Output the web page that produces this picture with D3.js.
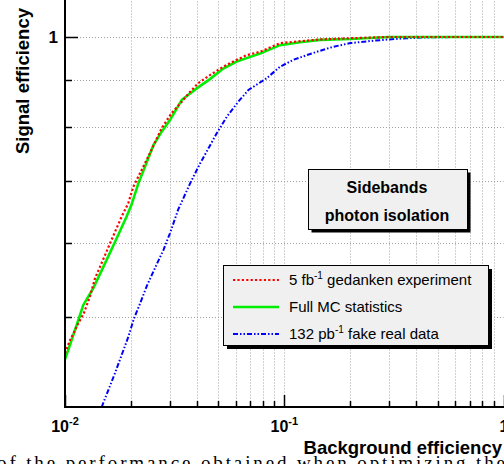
<!DOCTYPE html>
<html>
<head>
<meta charset="utf-8">
<script src="https://cdn.jsdelivr.net/npm/d3@7"></script>
<style>
  body { margin: 0; background: #fff; }
  svg { display: block; }
</style>
</head>
<body>
<svg id="chart" width="504" height="464"></svg>
<script>
// ---- data ----
const seriesNames = ['5 fb-1 gedanken experiment', 'Full MC statistics', '132 pb-1 fake real data'];

const bkgGedanken = [0.01, 0.01054, 0.0115, 0.0122, 0.013, 0.0137, 0.01444, 0.01605, 0.01813, 0.01945, 0.02048, 0.022, 0.0244, 0.0276, 0.0306, 0.0341, 0.0372, 0.0405, 0.0458, 0.0527, 0.0607, 0.0673, 0.0775, 0.0956, 0.1456, 0.2, 0.3, 1.0];
const sigGedanken = [0.457, 0.472, 0.492, 0.505, 0.526, 0.55, 0.566, 0.6, 0.641, 0.663, 0.69, 0.714, 0.75, 0.798, 0.828, 0.852, 0.873, 0.892, 0.91, 0.929, 0.945, 0.956, 0.964, 0.985, 0.994, 0.997, 1.0, 1.0];

const bkgFullMC = [0.01, 0.01111, 0.01212, 0.01346, 0.01496, 0.0169, 0.0191, 0.0201, 0.0216, 0.0232, 0.0253, 0.0276, 0.0301, 0.0341, 0.04, 0.0458, 0.0527, 0.0607, 0.07, 0.0775, 0.0956, 0.118, 0.1456, 0.2, 0.3, 1.0];
const sigFullMC = [0.45, 0.484, 0.515, 0.537, 0.566, 0.602, 0.641, 0.66, 0.696, 0.726, 0.765, 0.791, 0.814, 0.856, 0.881, 0.901, 0.925, 0.941, 0.952, 0.96, 0.98, 0.987, 0.993, 0.995, 1.0, 1.0];

const bkgFake = [0.0147, 0.01576, 0.0169, 0.01813, 0.01945, 0.02063, 0.022, 0.0237, 0.0257, 0.0281, 0.0301, 0.0328, 0.0372, 0.0413, 0.0451, 0.0492, 0.0547, 0.0617, 0.0686, 0.0831, 0.0956, 0.1099, 0.1265, 0.1405, 0.1668, 0.2, 0.246, 0.3, 0.36, 0.45, 0.6, 1.0];
const sigFake = [0.4, 0.417, 0.435, 0.455, 0.476, 0.498, 0.517, 0.541, 0.564, 0.59, 0.615, 0.652, 0.696, 0.731, 0.759, 0.788, 0.821, 0.852, 0.877, 0.903, 0.929, 0.945, 0.956, 0.964, 0.976, 0.985, 0.99, 0.994, 0.997, 0.999, 1.0, 1.0];

const xTicksMajor = [0.01, 0.1, 1];
const yTicks = [0.4, 0.5, 0.6, 0.7, 0.8, 0.9, 1.0];

// ---- layout ----
const svg = d3.select('#chart');
const font = '"Liberation Sans", Arial, Helvetica, sans-serif';

var x = d3.scaleLog().domain([0.01, 1]).range([65, 503.6]);
var y = d3.scaleLog().domain([0.4, 1]).range([407, 37]);
const yTop = y(1.1);

const xMinor = [];
for (let d = 0.01; d < 1; d *= 10) {
    for (let k = 2; k <= 9; k++) xMinor.push(+(d * k).toPrecision(3));
}

// grid
const grid = svg.append('g').attr('stroke', '#a0a0a0').attr('stroke-width', 1).attr('stroke-dasharray', '1,2');
grid.selectAll('line.v')
    .data(xMinor.concat([0.1]))
    .enter().append('line')
        .attr('x1', d => Math.round(x(d)) + 0.5).attr('x2', d => Math.round(x(d)) + 0.5)
        .attr('y1', yTop).attr('y2', y(0.4));
grid.selectAll('line.h')
    .data(yTicks.slice(1))
    .enter().append('line')
        .attr('x1', x(0.01)).attr('x2', x(1))
        .attr('y1', d => Math.round(y(d)) + 0.5).attr('y2', d => Math.round(y(d)) + 0.5);

// curves
svg.append('clipPath').attr('id', 'plotclip')
    .append('rect').attr('x', x(0.01)).attr('y', yTop).attr('width', x(1) - x(0.01)).attr('height', y(0.4) - yTop);

const line = d3.line().x(d => x(d[0])).y(d => y(d[1]));
// index matches seriesNames
const curves = [
    { pts: d3.zip(bkgGedanken, sigGedanken), color: '#ff0000', width: 2.2, dash: '2.2,2.2' },
    { pts: d3.zip(bkgFullMC, sigFullMC), color: '#00ee00', width: 2.6, dash: null },
    { pts: d3.zip(bkgFake, sigFake), color: '#0000ff', width: 2, dash: '5,2,1.5,2,1.5,2' }
];
const cg = svg.append('g').attr('clip-path', 'url(#plotclip)');
[2, 1, 0].forEach(i => {
    const c = curves[i];
    cg.append('path')
        .datum(c.pts)
        .attr('d', line)
        .attr('fill', 'none')
        .attr('stroke', c.color)
        .attr('stroke-width', c.width)
        .attr('stroke-dasharray', c.dash);
});

// frame + axes
svg.append('line').attr('x1', x(0.01)).attr('x2', x(0.01)).attr('y1', yTop).attr('y2', y(0.4) + 1)
    .attr('stroke', '#000').attr('stroke-width', 2);
svg.append('line').attr('x1', x(0.01) - 1).attr('x2', x(1) + 2).attr('y1', y(0.4)).attr('y2', y(0.4))
    .attr('stroke', '#000').attr('stroke-width', 2);

// x ticks (inward)
svg.selectAll('line.xt')
    .data(xMinor.concat(xTicksMajor))
    .enter().append('line')
        .attr('x1', d => Math.round(x(d)) + 0.5).attr('x2', d => Math.round(x(d)) + 0.5)
        .attr('y1', y(0.4)).attr('y2', d => y(0.4) - (xTicksMajor.includes(d) ? 12 : 6))
        .attr('stroke', '#000').attr('stroke-width', 1.5);

// y ticks (inward)
svg.selectAll('line.yt')
    .data(yTicks.slice(1))
    .enter().append('line')
        .attr('x1', x(0.01)).attr('x2', d => x(0.01) + (d === 1 ? 13 : 7))
        .attr('y1', d => Math.round(y(d)) + 0.5).attr('y2', d => Math.round(y(d)) + 0.5)
        .attr('stroke', '#000').attr('stroke-width', 1.5);

// x tick labels
const xl = svg.selectAll('text.xl')
    .data(xTicksMajor)
    .enter().append('text')
        .attr('x', d => x(d) - (d === 1 ? 4 : 0))
        .attr('y', 432)
        .attr('text-anchor', d => d === 1 ? 'start' : 'middle')
        .attr('font-family', font).attr('font-weight', 'bold').attr('font-size', 16);
xl.each(function(d) {
    const t = d3.select(this);
    if (d === 1) { t.text('1'); return; }
    t.append('tspan').text('10');
    t.append('tspan').attr('dy', -7).attr('font-size', 11).text(d === 0.01 ? '-2' : '-1');
});

// y tick label
svg.append('text')
    .attr('x', 58).attr('y', y(1) + 6)
    .attr('text-anchor', 'end')
    .attr('font-family', font).attr('font-weight', 'bold').attr('font-size', 17)
    .text('1');

// axis titles
svg.append('text')
    .attr('x', 502).attr('y', 454)
    .attr('text-anchor', 'end')
    .attr('font-family', font).attr('font-weight', 'bold').attr('font-size', 18.5)
    .text('Background efficiency');
svg.append('text')
    .attr('transform', 'translate(29,8) rotate(-90)')
    .attr('text-anchor', 'end')
    .attr('font-family', font).attr('font-weight', 'bold').attr('font-size', 18.5)
    .text('Signal efficiency');

// Sidebands box
const sb = svg.append('g');
sb.append('rect').attr('x', 311.5).attr('y', 172.5).attr('width', 159).attr('height', 60).attr('fill', '#000');
sb.append('rect').attr('x', 308.5).attr('y', 169.5).attr('width', 159).attr('height', 60)
    .attr('fill', '#f0f0f0').attr('stroke', '#000').attr('stroke-width', 1);
sb.selectAll('text')
    .data(['Sidebands', 'photon isolation'])
    .enter().append('text')
        .attr('x', 387).attr('y', (d, i) => 193 + i * 28)
        .attr('text-anchor', 'middle')
        .attr('font-family', font).attr('font-weight', 'bold').attr('font-size', 16)
        .text(d => d);

// legend
const lg = svg.append('g');
lg.append('rect').attr('x', 227).attr('y', 269).attr('width', 265).attr('height', 80).attr('fill', '#000');
lg.append('rect').attr('x', 223.5).attr('y', 265.5).attr('width', 265).attr('height', 80)
    .attr('fill', '#f0f0f0').attr('stroke', '#000').attr('stroke-width', 1);
curves.forEach((c, i) => {
    const yy = 280 + i * 27;
    lg.append('line').attr('x1', 233).attr('x2', 279).attr('y1', yy).attr('y2', yy)
        .attr('stroke', c.color).attr('stroke-width', c.width).attr('stroke-dasharray', c.dash);
    const t = lg.append('text').attr('x', 289).attr('y', yy + 5)
        .attr('font-family', font).attr('font-size', 15).attr('fill', '#000');
    const name = seriesNames[i];
    const m = name.match(/^(\S+ \S+)-1(.*)$/);
    if (m) {
        t.append('tspan').text(m[1]);
        t.append('tspan').attr('dy', -6).attr('font-size', 10).text('-1');
        t.append('tspan').attr('dy', 6).text(m[2]);
    } else {
        t.text(name);
    }
});

// caption fragment cut by the page edge
svg.append('text')
    .attr('x', -3).attr('y', 468.5)
    .attr('font-family', '"Liberation Serif", "DejaVu Serif", serif').attr('font-size', 19)
    .attr('textLength', 508).attr('lengthAdjust', 'spacing')
    .text('of the performance obtained when optimizing the');
</script>
</body>
</html>
